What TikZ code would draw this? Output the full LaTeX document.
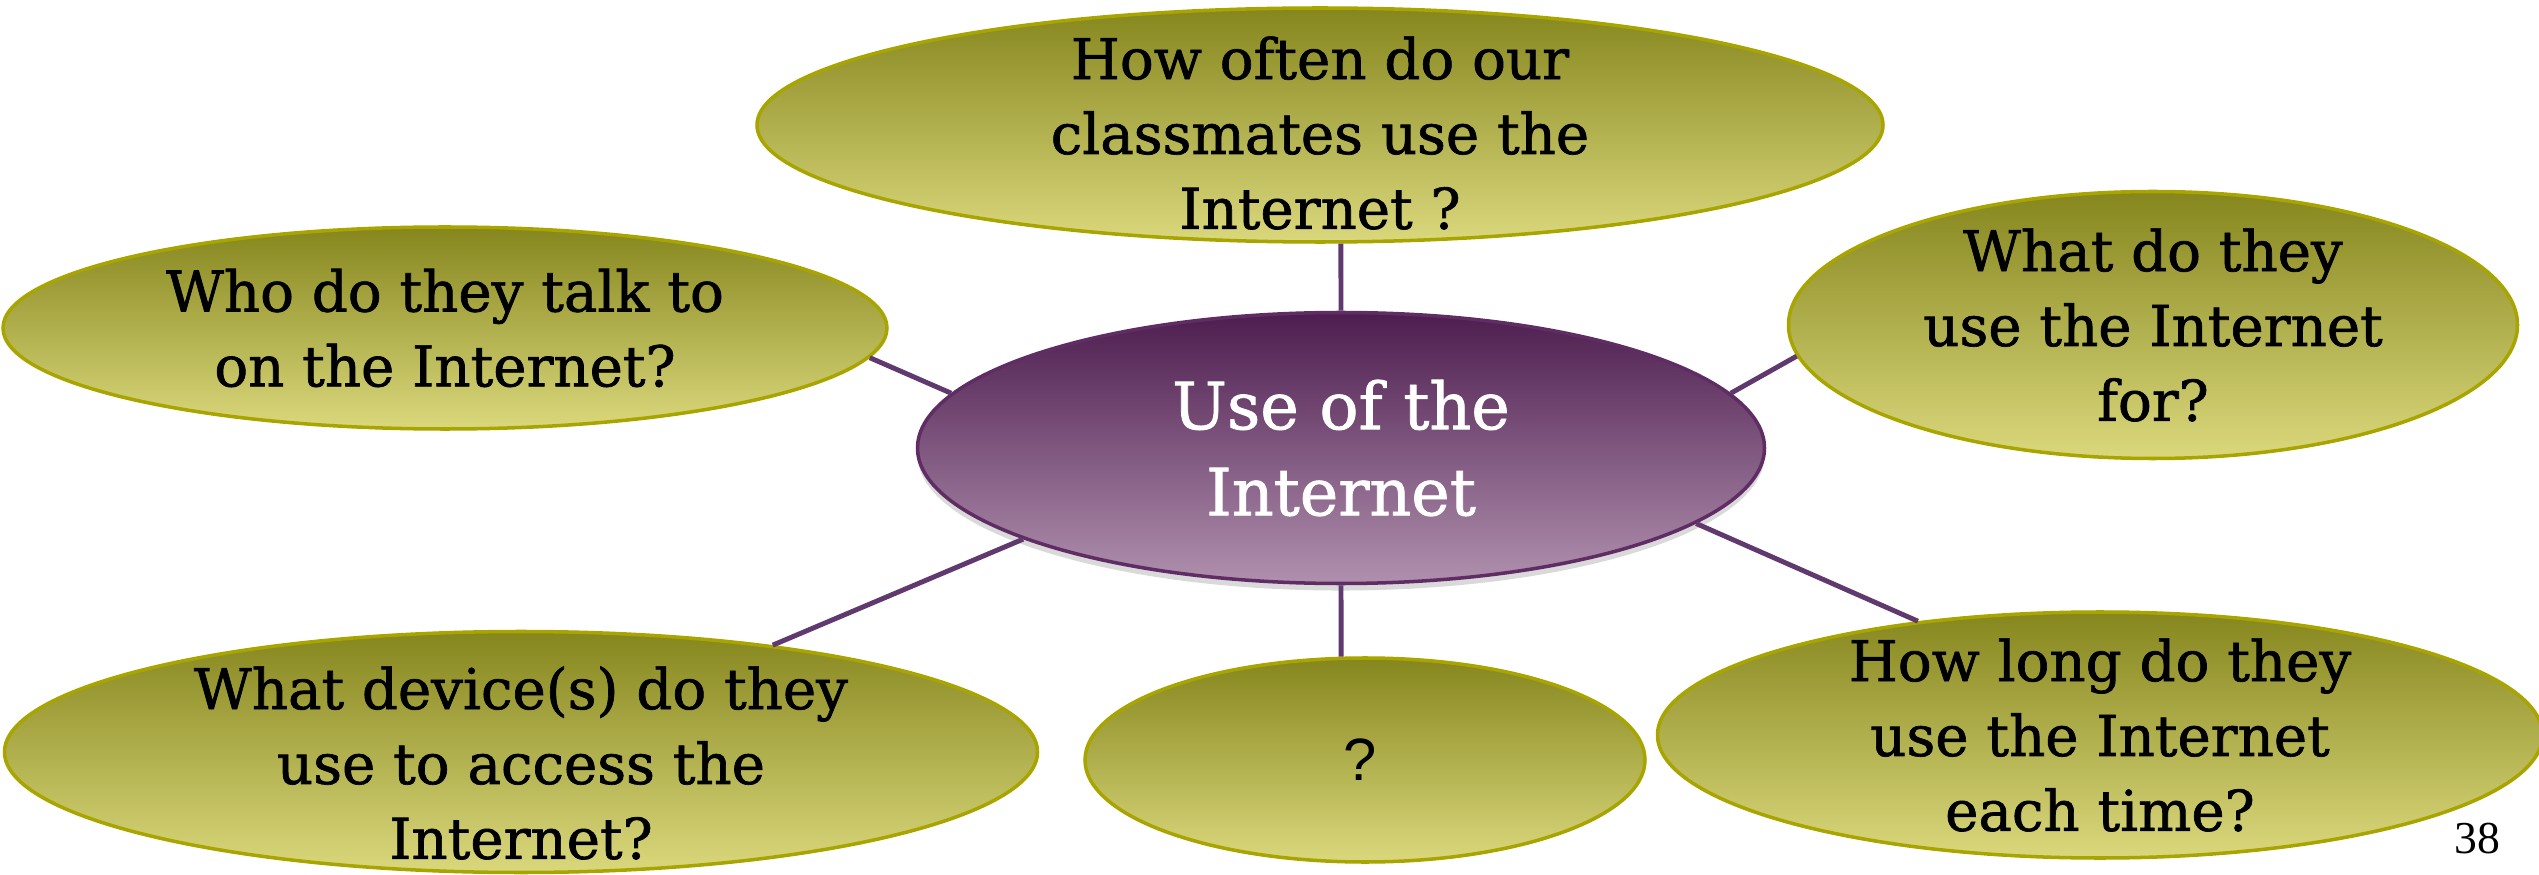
\documentclass[tikz,border=0pt]{standalone}
\usepackage{fontspec}
\setmainfont{DejaVu Serif}[FakeBold=1.2]
\newfontfamily\qsans{Liberation Sans}
\newfontfamily\pagefont{Liberation Serif}
\usetikzlibrary{shapes.geometric,shadows}

\definecolor{olivetop}{RGB}{134,134,30}
\definecolor{olivebot}{RGB}{218,216,124}
\definecolor{olivedge}{RGB}{168,164,0}
\definecolor{plumtop}{RGB}{77,29,79}
\definecolor{plumbot}{RGB}{176,144,174}
\definecolor{plumedge}{RGB}{95,45,100}
\definecolor{plumline}{RGB}{96,58,110}

\begin{document}
\begin{tikzpicture}[
    question/.style={ellipse, draw=olivedge, line width=1pt,
        top color=olivetop, bottom color=olivebot, inner sep=0pt},
    qtext/.style={align=center, text=black, font=\fontsize{16}{21.3}\selectfont},
    topic/.style={ellipse, draw=plumedge, line width=1pt,
        top color=plumtop, bottom color=plumbot, inner sep=0pt,
        drop shadow={opacity=0.3, shadow xshift=0pt, shadow yshift=-2pt}},
    link/.style={draw=plumline, line width=1.4pt}
]
    \useasboundingbox (0,0) rectangle (25.39,8.74);

    % Central topic
    \node[topic, minimum width=8.47cm, minimum height=2.71cm,
        label={[qtext, text=white, font=\fontsize{18.5}{24.5}\selectfont]center:{Use of the\\Internet}}]
        (hub) at (13.41,4.26) {};

    % Questions around it
    \node[question, minimum width=11.26cm, minimum height=2.34cm,
        label={[qtext, yshift=-0.08cm]center:{How often do our\\classmates use the\\Internet ?}}]
        (often) at (13.20,7.49) {};
    \node[question, minimum width=8.84cm, minimum height=2.02cm,
        label={[qtext]center:{Who do they talk to\\on the Internet?}}]
        (who) at (4.45,5.46) {};
    \node[question, minimum width=7.29cm, minimum height=2.67cm,
        label={[qtext]center:{What do they\\use the Internet\\for?}}]
        (what) at (21.53,5.49) {};
    \node[question, minimum width=10.33cm, minimum height=2.41cm,
        label={[qtext, yshift=-0.11cm]center:{What device(s) do they\\use to access the\\Internet?}}]
        (device) at (5.21,1.22) {};
    \node[question, minimum width=5.60cm, minimum height=2.04cm,
        label={[qtext, xshift=-0.05cm, font=\qsans\fontsize{17}{20}\selectfont]center:{?}}]
        (unknown) at (13.65,1.14) {};
    \node[question, minimum width=8.85cm, minimum height=2.46cm,
        label={[qtext]center:{How long do they\\use the Internet\\each time?}}]
        (howlong) at (21.00,1.39) {};

    % Spokes
    \draw[link] (hub.90) -- (often.-80);
    \draw[link] (hub.172) -- (who.-4);
    \draw[link] (hub.8) -- (what.185);
    \draw[link] (hub.196) -- (device.23);
    \draw[link] (hub.270) -- (unknown.103);
    \draw[link] (hub.-12) -- (howlong.148);

    % Slide number
    \node[font=\pagefont\fontsize{13}{15}\selectfont] (pagenum) at (24.77,0.35) {38};
\end{tikzpicture}
\end{document}
